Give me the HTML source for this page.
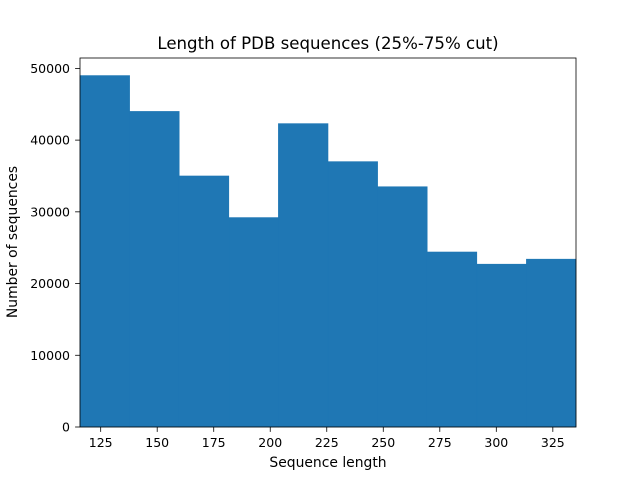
<!DOCTYPE html>
<html><head><meta charset="utf-8"><style>
body{margin:0;background:#fff;font-family:"Liberation Sans","DejaVu Sans",sans-serif;}
text{font-family:"DejaVu Sans","Liberation Sans",sans-serif;}
</style></head><body>
<svg id="chart" width="640" height="480" xmlns="http://www.w3.org/2000/svg">
<rect width="640" height="480" fill="#fff"/>
<g id="bars"></g>
<g id="axes"></g>
<text x="328" y="49" font-size="16.6" text-anchor="middle">Length of PDB sequences (25%-75% cut)</text>
<text x="328" y="467" font-size="13.9" text-anchor="middle">Sequence length</text>
<text transform="translate(17,242) rotate(-90)" font-size="13.9" text-anchor="middle">Number of sequences</text>
</svg>
<script>
const binStart = 115.85;
const binWidth = 21.94;
const counts = [49000, 44000, 35000, 29200, 42300, 37000, 33500, 24400, 22700, 23400];
const xTicks = [125, 150, 175, 200, 225, 250, 275, 300, 325];
const yTicks = [0, 10000, 20000, 30000, 40000, 50000];

const L = 80, R = 576, T = 58, B = 427;
const xMin = binStart, xMax = binStart + binWidth * counts.length;
const yMax = 51450;
const X = v => L + (v - xMin) / (xMax - xMin) * (R - L);
const Y = v => B - v / yMax * (B - T);
const NS = "http://www.w3.org/2000/svg";
const bars = document.getElementById('bars');
counts.forEach((c, i) => {
  const r = document.createElementNS(NS, 'rect');
  const x0 = X(binStart + i * binWidth), x1 = X(binStart + (i + 1) * binWidth);
  r.setAttribute('x', x0); r.setAttribute('width', x1 - x0);
  r.setAttribute('y', Y(c)); r.setAttribute('height', B - Y(c));
  r.setAttribute('fill', '#1f77b4');
  r.setAttribute('stroke', '#1f77b4'); r.setAttribute('stroke-width', '0.6');
  
  
  bars.appendChild(r);
});
const axes = document.getElementById('axes');
const frame = document.createElementNS(NS, 'rect');
frame.setAttribute('x', L); frame.setAttribute('y', T);
frame.setAttribute('width', R - L); frame.setAttribute('height', B - T);
frame.setAttribute('fill', 'none'); frame.setAttribute('stroke', '#000'); frame.setAttribute('stroke-width', '0.8');


axes.appendChild(frame);
xTicks.forEach(t => {
  const x = X(t);
  const l = document.createElementNS(NS, 'line');
  l.setAttribute('x1', x); l.setAttribute('x2', x); l.setAttribute('y1', B); l.setAttribute('y2', B + 4.9);
  l.setAttribute('stroke', '#000'); l.setAttribute('stroke-width', '0.8');
  
  
  axes.appendChild(l);
  const tx = document.createElementNS(NS, 'text');
  tx.setAttribute('x', x); tx.setAttribute('y', B + 20); tx.setAttribute('font-size', '12.5');
  tx.setAttribute('text-anchor', 'middle'); tx.textContent = t;
  
  
  axes.appendChild(tx);
});
yTicks.forEach(t => {
  const y = Y(t);
  const l = document.createElementNS(NS, 'line');
  l.setAttribute('x1', L - 4.9); l.setAttribute('x2', L); l.setAttribute('y1', y); l.setAttribute('y2', y);
  l.setAttribute('stroke', '#000'); l.setAttribute('stroke-width', '0.8');
  
  
  axes.appendChild(l);
  const tx = document.createElementNS(NS, 'text');
  tx.setAttribute('x', L - 10); tx.setAttribute('y', y + 4.5); tx.setAttribute('font-size', '12.5');
  tx.setAttribute('text-anchor', 'end'); tx.textContent = t;
  
  
  axes.appendChild(tx);
});
</script>
</body></html>
